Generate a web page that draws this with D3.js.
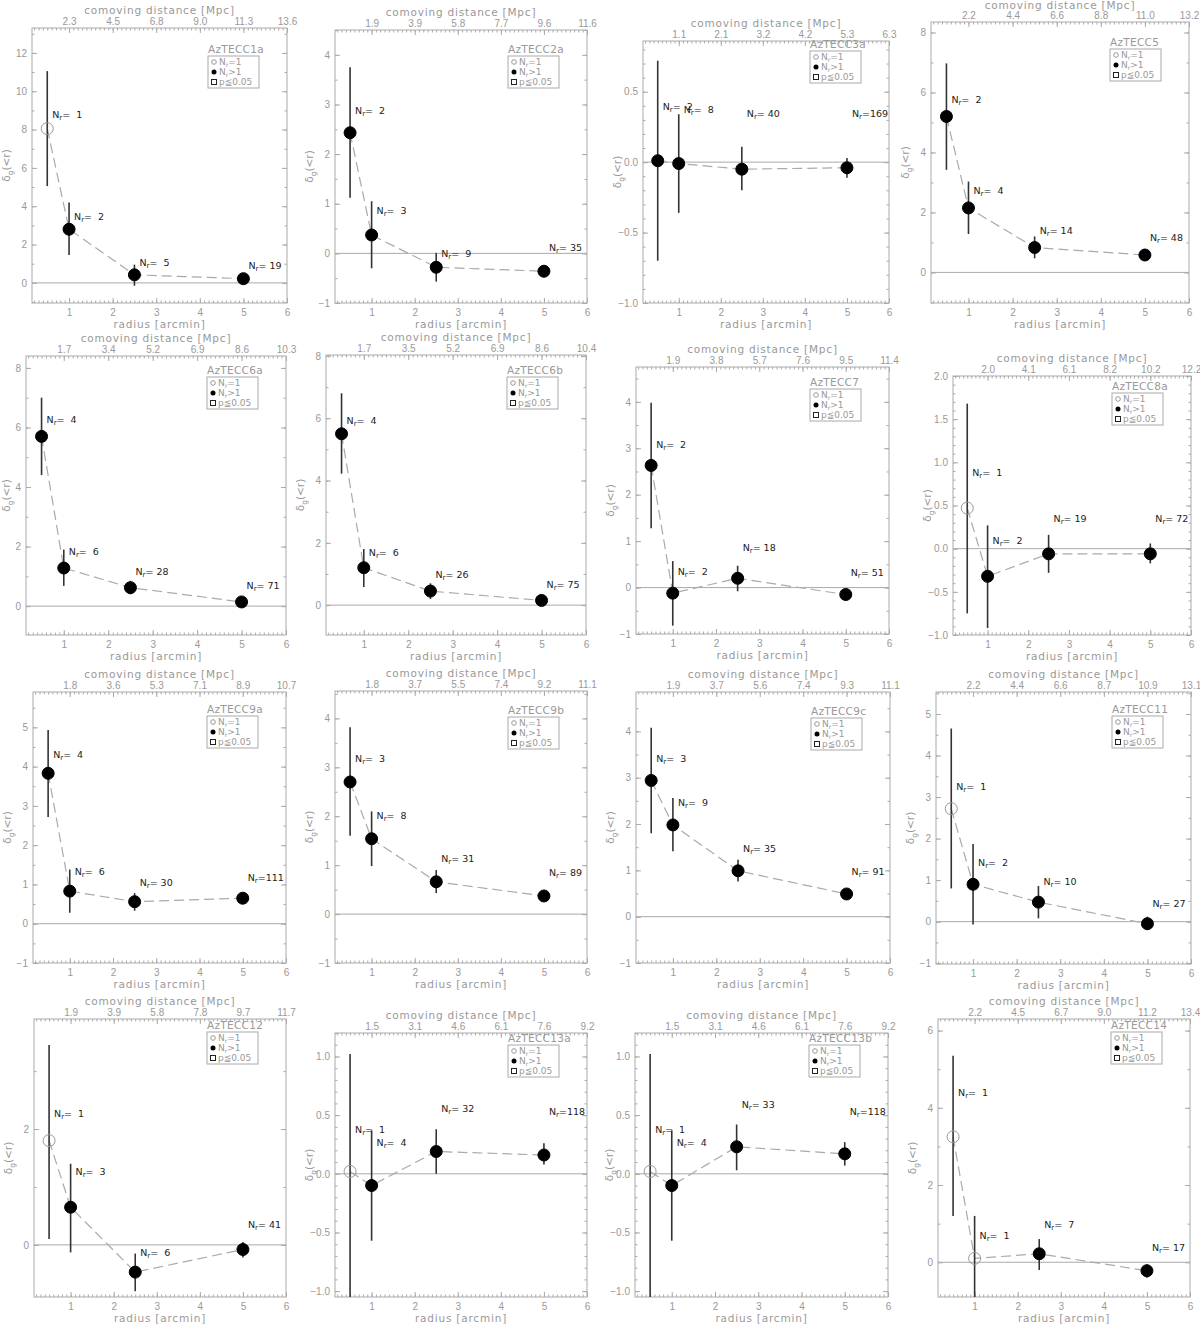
<!DOCTYPE html>
<html>
<head>
<meta charset="utf-8">
<script src="https://cdn.jsdelivr.net/npm/d3@7"></script>
<style>
  body { margin: 0; background: #fff; }
  svg text { font-family: "DejaVu Sans", sans-serif; }
  .tick text { font-family: "Liberation Sans", Arial, sans-serif; font-size: 10px; fill: #999; }
  .tick line { stroke: #aaa; }
</style>
</head>
<body>
<svg id="chart" width="1200" height="1325"></svg>
<script>
// ---- data ----
const panelNames = ["AzTECC1a", "AzTECC2a", "AzTECC3a", "AzTECC5",
                    "AzTECC6a", "AzTECC6b", "AzTECC7", "AzTECC8a",
                    "AzTECC9a", "AzTECC9b", "AzTECC9c", "AzTECC11",
                    "AzTECC12", "AzTECC13a", "AzTECC13b", "AzTECC14"];

const radii = [0.5, 1, 2.5, 5];

const delta = [
  [8.05, 2.8, 0.42, 0.22], [2.43, 0.37, -0.28, -0.36], [0.01, -0.01, -0.05, -0.04], [5.2, 2.15, 0.83, 0.58],
  [5.7, 1.28, 0.62, 0.14], [5.5, 1.2, 0.45, 0.15], [2.63, -0.12, 0.2, -0.15], [0.47, -0.32, -0.06, -0.06],
  [3.83, 0.83, 0.56, 0.65], [2.7, 1.54, 0.66, 0.37], [2.94, 1.98, 0.99, 0.49], [2.72, 0.9, 0.47, -0.05],
  [1.8, 0.65, -0.47, -0.08], [0.02, -0.1, 0.19, 0.16], [0.02, -0.1, 0.23, 0.17], [3.25, 0.1, 0.22, -0.22]
];
const errLow = [
  [5.05, 1.45, -0.15, 0.12], [1.12, -0.3, -0.57, -0.48], [-0.7, -0.36, -0.2, -0.11], [3.42, 1.28, 0.47, 0.47],
  [4.4, 0.68, 0.4, 0.05], [4.22, 0.58, 0.2, 0.06], [1.28, -0.82, -0.08, -0.27], [-0.75, -0.92, -0.28, -0.17],
  [2.72, 0.28, 0.33, 0.57], [1.6, 0.98, 0.43, 0.27], [1.8, 1.41, 0.76, 0.37], [0.8, -0.07, 0.08, -0.2],
  [0.1, -0.13, -0.8, -0.22], [-1.2, -0.57, 0.0, 0.08], [-1.2, -0.57, 0.03, 0.07], [1.2, -1.0, -0.2, -0.4]
];
const errHigh = [
  [11.05, 4.2, 0.95, 0.32], [3.75, 1.05, 0.01, -0.24], [0.72, 0.34, 0.11, 0.03], [6.97, 3.03, 1.2, 0.7],
  [7.0, 1.9, 0.85, 0.23], [6.8, 1.8, 0.7, 0.24], [3.98, 0.57, 0.47, -0.05], [1.68, 0.27, 0.16, 0.06],
  [4.93, 1.38, 0.78, 0.73], [3.82, 2.1, 0.9, 0.48], [4.08, 2.56, 1.23, 0.6], [4.65, 1.87, 0.86, 0.12],
  [3.45, 1.4, -0.15, 0.05], [1.02, 0.37, 0.38, 0.26], [1.02, 0.37, 0.42, 0.27], [5.35, 1.2, 0.6, -0.05]
];
const counts = [
  [1, 2, 5, 19], [2, 3, 9, 35], [2, 8, 40, 169], [2, 4, 14, 48],
  [4, 6, 28, 71], [4, 6, 26, 75], [2, 2, 18, 51], [1, 2, 19, 72],
  [4, 6, 30, 111], [3, 8, 31, 89], [3, 9, 35, 91], [1, 2, 10, 27],
  [1, 3, 6, 41], [1, 4, 32, 118], [1, 4, 33, 118], [1, 1, 7, 17]
];
// height (in delta units) at which each N_r annotation sits
const labelAt = [
  [8.6, 3.3, 0.89, 0.73], [2.81, 0.79, -0.07, 0.05], [0.37, 0.35, 0.32, 0.32], [5.65, 2.6, 1.27, 1.05],
  [6.16, 1.72, 1.05, 0.59], [5.8, 1.59, 0.87, 0.55], [3.01, 0.28, 0.79, 0.25], [0.84, 0.05, 0.31, 0.31],
  [4.21, 1.25, 0.97, 1.08], [3.11, 1.94, 1.07, 0.78], [3.34, 2.38, 1.39, 0.89], [3.16, 1.33, 0.88, 0.36],
  [2.2, 1.2, -0.2, 0.3], [0.35, 0.24, 0.53, 0.5], [0.35, 0.24, 0.56, 0.5], [4.3, 0.6, 0.9, 0.3]
];
const comovingTicks = [
  ["2.3", "4.5", "6.8", "9.0", "11.3", "13.6"], ["1.9", "3.9", "5.8", "7.7", "9.6", "11.6"],
  ["1.1", "2.1", "3.2", "4.2", "5.3", "6.3"], ["2.2", "4.4", "6.6", "8.8", "11.0", "13.2"],
  ["1.7", "3.4", "5.2", "6.9", "8.6", "10.3"], ["1.7", "3.5", "5.2", "6.9", "8.6", "10.4"],
  ["1.9", "3.8", "5.7", "7.6", "9.5", "11.4"], ["2.0", "4.1", "6.1", "8.2", "10.2", "12.2"],
  ["1.8", "3.6", "5.3", "7.1", "8.9", "10.7"], ["1.8", "3.7", "5.5", "7.4", "9.2", "11.1"],
  ["1.9", "3.7", "5.6", "7.4", "9.3", "11.1"], ["2.2", "4.4", "6.6", "8.7", "10.9", "13.1"],
  ["1.9", "3.9", "5.8", "7.8", "9.7", "11.7"], ["1.5", "3.1", "4.6", "6.1", "7.6", "9.2"],
  ["1.5", "3.1", "4.6", "6.1", "7.6", "9.2"], ["2.2", "4.5", "6.7", "9.0", "11.2", "13.4"]
];
const radiusTicks = [1, 2, 3, 4, 5, 6];
const yDomains = [
  [-1.05, 13.3], [-1, 4.5], [-1, 0.86], [-1.02, 8.35],
  [-0.97, 8.4], [-0.96, 8.03], [-1, 4.75], [-1, 2],
  [-1, 5.9], [-1, 4.56], [-1, 4.85], [-1.02, 5.53],
  [-0.9, 3.9], [-1.05, 1.2], [-1.05, 1.2], [-0.9, 6.3]
];
const yStep = [2, 1, 0.5, 2, 2, 2, 1, 0.5, 1, 1, 1, 1, 2, 0.5, 0.5, 2];

// ---- layout (pixel boxes of each plot frame: left, top, right, bottom) ----
const panelBoxes = [
  [32, 28, 287, 303], [335, 30, 587, 303], [643, 41, 889, 303], [931, 22, 1189, 303],
  [26, 356, 286, 635], [326, 355, 586, 635], [636, 367, 889, 634], [953, 376, 1191, 635],
  [33, 692, 286, 963], [335, 691, 587, 963], [636, 692, 890, 963], [936, 692, 1191, 964],
  [34, 1019, 286, 1297], [335, 1033, 587, 1297], [635, 1033, 888, 1297], [938, 1019, 1190, 1297]
];
const legendDrop = [28, 26, 10, 27, 21, 22, 22, 17, 24, 26, 26, 24, 13, 12, 12, 13];
const radiusDomain = [0.15, 6];

const svg = d3.select("#chart");
const grey = "#999";

panelNames.forEach((name, i) => {
  const [x0, y0, x1, y1] = panelBoxes[i];
  const x = d3.scaleLinear().domain(radiusDomain).range([x0, x1]);
  const y = d3.scaleLinear().domain(yDomains[i]).range([y1, y0]);
  const g = svg.append("g");

  g.append("clipPath").attr("id", "clip" + i)
    .append("rect").attr("x", x0).attr("y", y0).attr("width", x1 - x0).attr("height", y1 - y0);

  // minor / major ticks
  const xMinor = d3.range(2, 61).map(v => v / 10);
  const step = yStep[i];
  const [lo, hi] = yDomains[i];
  const yMajor = d3.range(Math.ceil(lo / step - 1e-6), Math.floor(hi / step + 1e-6) + 1).map(k => +(k * step).toFixed(2));
  const mstep = step === 0.5 ? 0.1 : step / 2;
  const yMinor = d3.range(Math.ceil(lo / mstep - 1e-6), Math.floor(hi / mstep + 1e-6) + 1).map(k => +(k * mstep).toFixed(2));
  const yFmt = step < 1 ? d3.format(".1f") : d3.format("d");

  const noDomain = a => a.select(".domain").remove();

  g.append("g").attr("transform", `translate(0,${y1})`)
    .call(d3.axisBottom(x).tickValues(xMinor).tickSize(-2.5).tickFormat("")).call(noDomain);
  g.append("g").attr("transform", `translate(0,${y1})`)
    .call(d3.axisBottom(x).tickValues(radiusTicks).tickSize(-5).tickPadding(6).tickFormat(d3.format("d"))).call(noDomain);
  g.append("g").attr("transform", `translate(0,${y0})`)
    .call(d3.axisTop(x).tickValues(xMinor).tickSize(-2.5).tickFormat("")).call(noDomain);
  g.append("g").attr("transform", `translate(0,${y0})`)
    .call(d3.axisTop(x).tickValues(radiusTicks).tickSize(-5).tickPadding(3)
      .tickFormat((d, k) => comovingTicks[i][k])).call(noDomain);

  g.append("g").attr("transform", `translate(${x0},0)`)
    .call(d3.axisLeft(y).tickValues(yMinor).tickSize(-2.5).tickFormat("")).call(noDomain);
  g.append("g").attr("transform", `translate(${x0},0)`)
    .call(d3.axisLeft(y).tickValues(yMajor).tickSize(-5).tickPadding(5).tickFormat(yFmt)).call(noDomain);
  g.append("g").attr("transform", `translate(${x1},0)`)
    .call(d3.axisRight(y).tickValues(yMinor).tickSize(-2.5).tickFormat("")).call(noDomain);
  g.append("g").attr("transform", `translate(${x1},0)`)
    .call(d3.axisRight(y).tickValues(yMajor).tickSize(-5).tickFormat("")).call(noDomain);

  // frame
  g.append("rect").attr("x", x0).attr("y", y0).attr("width", x1 - x0).attr("height", y1 - y0)
    .attr("fill", "none").attr("stroke", "#aaa");

  // axis titles
  g.append("text").attr("x", (x0 + x1) / 2).attr("y", Math.max(y0 - 14, 9)).attr("text-anchor", "middle")
    .attr("font-size", 10.5).attr("letter-spacing", 0.8).attr("fill", grey).text("comoving distance [Mpc]");
  g.append("text").attr("x", (x0 + x1) / 2).attr("y", y1 + 25).attr("text-anchor", "middle")
    .attr("font-size", 10.5).attr("letter-spacing", 0.8).attr("fill", grey).text("radius [arcmin]");
  const yt = g.append("text").attr("transform", `translate(${Math.max(x0 - 22, 10)},${(y0 + y1) / 2}) rotate(-90)`)
    .attr("text-anchor", "middle").attr("font-size", 10.5).attr("fill", grey);
  yt.append("tspan").text("δ");
  yt.append("tspan").attr("font-size", 7.5).attr("dy", 2.5).text("g");
  yt.append("tspan").attr("dy", -2.5).text("(<r)");

  // zero line
  g.append("line").attr("x1", x0).attr("x2", x1).attr("y1", y(0)).attr("y2", y(0))
    .attr("stroke", "#aaa").attr("stroke-width", 1);

  const pts = radii.map((r, k) => ({
    r, v: delta[i][k], lo: errLow[i][k], hi: errHigh[i][k], n: counts[i][k], lab: labelAt[i][k]
  }));

  const plot = g.append("g").attr("clip-path", `url(#clip${i})`);

  plot.append("path").datum(pts)
    .attr("d", d3.line().x(d => x(d.r)).y(d => y(d.v)))
    .attr("fill", "none").attr("stroke", "#aaa").attr("stroke-width", 1.2).attr("stroke-dasharray", "10,5");

  plot.selectAll(".err").data(pts).join("line")
    .attr("x1", d => x(d.r)).attr("x2", d => x(d.r))
    .attr("y1", d => y(d.lo)).attr("y2", d => y(d.hi))
    .attr("stroke", "#333").attr("stroke-width", 1.6);

  plot.selectAll(".pt").data(pts).join("circle")
    .attr("cx", d => x(d.r)).attr("cy", d => y(d.v)).attr("r", 6)
    .attr("fill", d => d.n > 1 ? "#000" : "none")
    .attr("stroke", d => d.n > 1 ? "#000" : grey).attr("stroke-width", 1);

  // N_r annotations
  pts.forEach(d => {
    const t = g.append("text").attr("x", x(d.r) + 5).attr("y", y(d.lab))
      .attr("font-size", 9.5).attr("fill", "#222").style("white-space", "pre");
    t.append("tspan").text("N");
    t.append("tspan").attr("font-size", 7).attr("dy", 2).text("r");
    t.append("tspan").attr("dy", -2).text("=" + String(d.n).padStart(3, " "));
  });

  // legend
  const bw = 51, bh = 32;
  const bx = x1 - 28 - bw, by = y0 + legendDrop[i];
  g.append("text").attr("x", bx).attr("y", by - 3).attr("font-size", 10.5).attr("letter-spacing", 0.3)
    .attr("fill", grey).text(name);
  g.append("rect").attr("x", bx).attr("y", by).attr("width", bw).attr("height", bh)
    .attr("fill", "#fff").attr("stroke", "#aaa");
  const rows = [
    { sym: "open", sub: "=1" }, { sym: "fill", sub: ">1" }, { sym: "square", txt: "p≦0.05" }
  ];
  rows.forEach((row, k) => {
    const cy = by + 6 + k * 10;
    if (row.sym === "open") g.append("circle").attr("cx", bx + 6).attr("cy", cy).attr("r", 2.3)
      .attr("fill", "none").attr("stroke", grey);
    if (row.sym === "fill") g.append("circle").attr("cx", bx + 6).attr("cy", cy).attr("r", 2.5).attr("fill", "#000");
    if (row.sym === "square") g.append("rect").attr("x", bx + 3.5).attr("y", cy - 2.5).attr("width", 5).attr("height", 5)
      .attr("fill", "none").attr("stroke", "#222");
    const t = g.append("text").attr("x", bx + 11).attr("y", cy + 3.2).attr("font-size", 9).attr("fill", grey);
    if (row.txt) t.text(row.txt);
    else {
      t.append("tspan").text("N");
      t.append("tspan").attr("font-size", 6).attr("dy", 1.5).text("r");
      t.append("tspan").attr("dy", -1.5).text(row.sub);
    }
  });
});
</script>
</body>
</html>
